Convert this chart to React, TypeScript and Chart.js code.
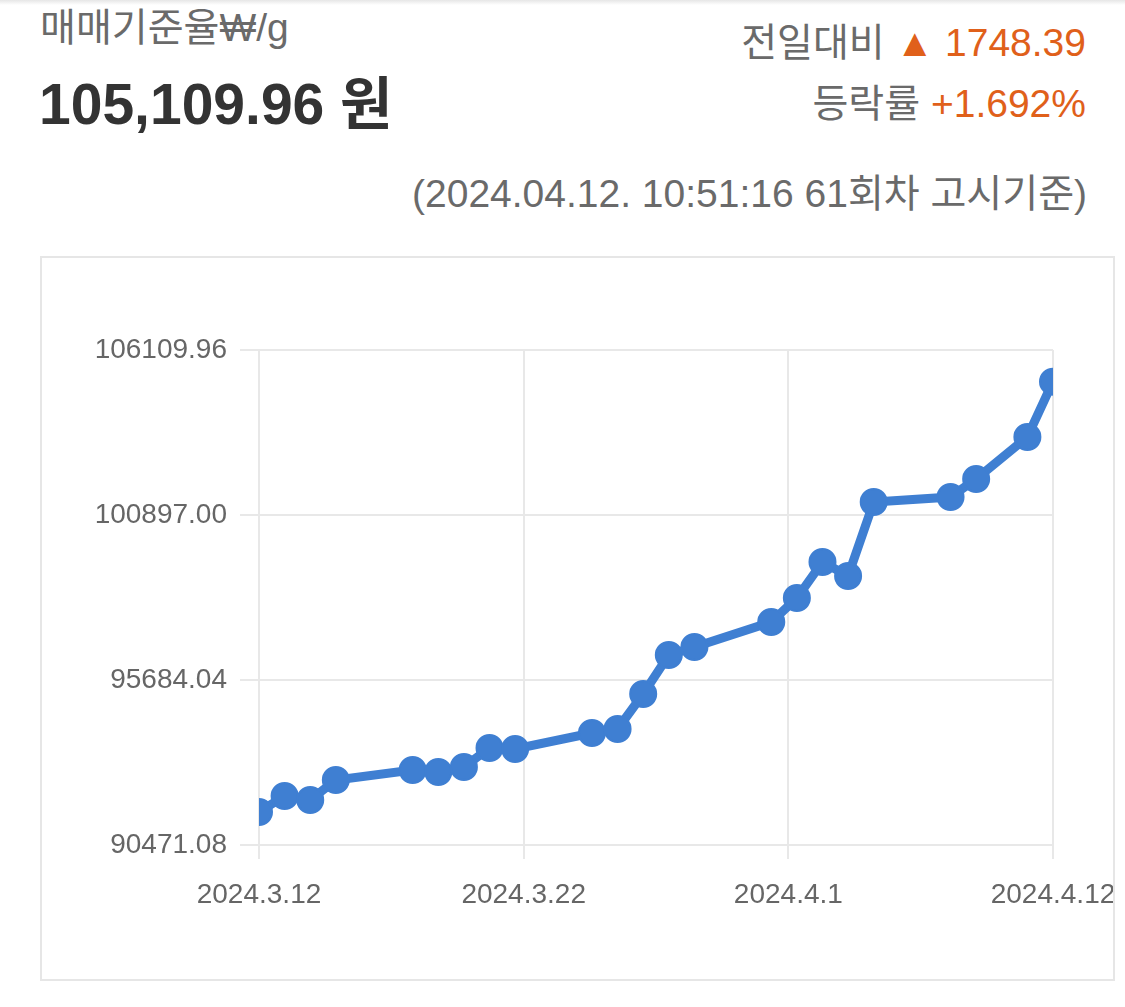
import React, { useEffect, useRef } from "react";
import { Chart, registerables } from "chart.js";

Chart.register(...registerables);

// ---- data ----
const dates = [
  "2024-03-12", "2024-03-13", "2024-03-14", "2024-03-15",
  "2024-03-18", "2024-03-19", "2024-03-20", "2024-03-21", "2024-03-22",
  "2024-03-25", "2024-03-26", "2024-03-27", "2024-03-28", "2024-03-29",
  "2024-04-01", "2024-04-02", "2024-04-03", "2024-04-04", "2024-04-05",
  "2024-04-08", "2024-04-09", "2024-04-11", "2024-04-12",
];
const prices = [
  91514, 92019, 91893, 92525,
  92841, 92777, 92935, 93536, 93504,
  94010, 94136, 95242, 96474, 96727,
  97516, 98275, 99412, 98970, 101308,
  101466, 102034, 103361.57, 105109.96,
];
const rangeStart = "2024-03-12";
const rangeEnd = "2024-04-12";
const xTickLabels = ["2024.3.12", "2024.3.22", "2024.4.1", "2024.4.12"];
const yTicks = [90471.08, 95684.04, 100897.0, 106109.96];

const DAY = 86400000;
const dayOf = (d: string) => (Date.parse(d) - Date.parse(rangeStart)) / DAY;

const FONT = '"Liberation Sans", Arial, "Noto Sans CJK KR", sans-serif';
const GRID = "#e8e8e8";

function PriceChart() {
  const ref = useRef<HTMLCanvasElement | null>(null);
  useEffect(() => {
    if (!ref.current) return;
    const span = dayOf(rangeEnd);
    const chart = new Chart(ref.current, {
      type: "line",
      data: {
        datasets: [
          {
            data: dates.map((d, i) => ({ x: dayOf(d), y: prices[i] })),
            borderColor: "#3f7fd2",
            backgroundColor: "#3f7fd2",
            pointBackgroundColor: "#3f7fd2",
            pointBorderColor: "#3f7fd2",
            borderWidth: 9,
            pointRadius: 13,
            pointBorderWidth: 2,
            pointHoverRadius: 13,
            tension: 0,
            clip: 0,
          },
        ],
      },
      options: {
        animation: false,
        responsive: false,
        maintainAspectRatio: false,
        layout: { padding: { top: 92, right: 100, left: 0, bottom: 0 } },
        plugins: { legend: { display: false }, tooltip: { enabled: false } },
        scales: {
          x: {
            type: "linear",
            min: 0,
            max: span,
            afterBuildTicks: (s: any) => {
              s.ticks = xTickLabels.map((_, i) => ({
                value: (i * span) / (xTickLabels.length - 1),
              }));
            },
            afterFit: (s: any) => {
              s.height = 134;
            },
            ticks: {
              autoSkip: false,
              maxRotation: 0,
              padding: 19,
              color: "#666",
              font: { family: FONT, size: 28 },
              callback: (_v: any, i: number) => xTickLabels[i],
            },
            grid: { color: GRID, lineWidth: 2, tickLength: 14 },
            border: { color: GRID, width: 2 },
          },
          y: {
            type: "linear",
            min: yTicks[0],
            max: yTicks[yTicks.length - 1],
            afterBuildTicks: (s: any) => {
              s.ticks = yTicks.map((v) => ({ value: v }));
            },
            afterFit: (s: any) => {
              s.width = 217;
            },
            ticks: {
              padding: 13,
              color: "#666",
              font: { family: FONT, size: 28 },
              callback: (v: any) => Number(v).toFixed(2),
            },
            grid: { color: GRID, lineWidth: 2, tickLength: 19 },
            border: { color: GRID, width: 2 },
          },
        },
      },
    } as any);
    return () => chart.destroy();
  }, []);
  return <canvas ref={ref} width={1111} height={721} style={{ display: "block" }} />;
}

export default function App() {
  const base: React.CSSProperties = {
    position: "absolute",
    fontFamily: FONT,
    whiteSpace: "nowrap",
  };
  return (
    <div
      style={{
        position: "fixed",
        left: 0,
        top: 0,
        width: 1125,
        height: 1007,
        background: "#fff",
        overflow: "hidden",
      }}
    >
      <div
        style={{
          position: "absolute",
          left: 0,
          top: 0,
          width: 1125,
          height: 5,
          background: "linear-gradient(#e6e6e6, #ffffff)",
        }}
      />
      <div style={{ ...base, left: 40, top: 8, fontSize: 39, lineHeight: "40px", color: "#6a6a6a" }}>
        매매기준율₩/g
      </div>
      <div
        style={{
          ...base,
          left: 39,
          top: 74,
          fontSize: 57,
          lineHeight: "60px",
          fontWeight: "bold",
          color: "#333",
        }}
      >
        105,109.96 원
      </div>
      <div style={{ ...base, right: 39, top: 23, fontSize: 39, lineHeight: "40px", color: "#6a6a6a" }}>
        전일대비 <span style={{ color: "#e0601a" }}>▲ 1748.39</span>
      </div>
      <div style={{ ...base, right: 39, top: 84, fontSize: 39, lineHeight: "40px", color: "#6a6a6a" }}>
        등락률 <span style={{ color: "#e0601a" }}>+1.692%</span>
      </div>
      <div style={{ ...base, right: 38, top: 174, fontSize: 39, lineHeight: "40px", color: "#6a6a6a" }}>
        (2024.04.12. 10:51:16 61회차 고시기준)
      </div>
      <div
        style={{
          position: "absolute",
          left: 40,
          top: 256,
          width: 1071,
          height: 721,
          border: "2px solid #e6e6e6",
          overflow: "hidden",
        }}
      >
        <PriceChart />
      </div>
    </div>
  );
}
